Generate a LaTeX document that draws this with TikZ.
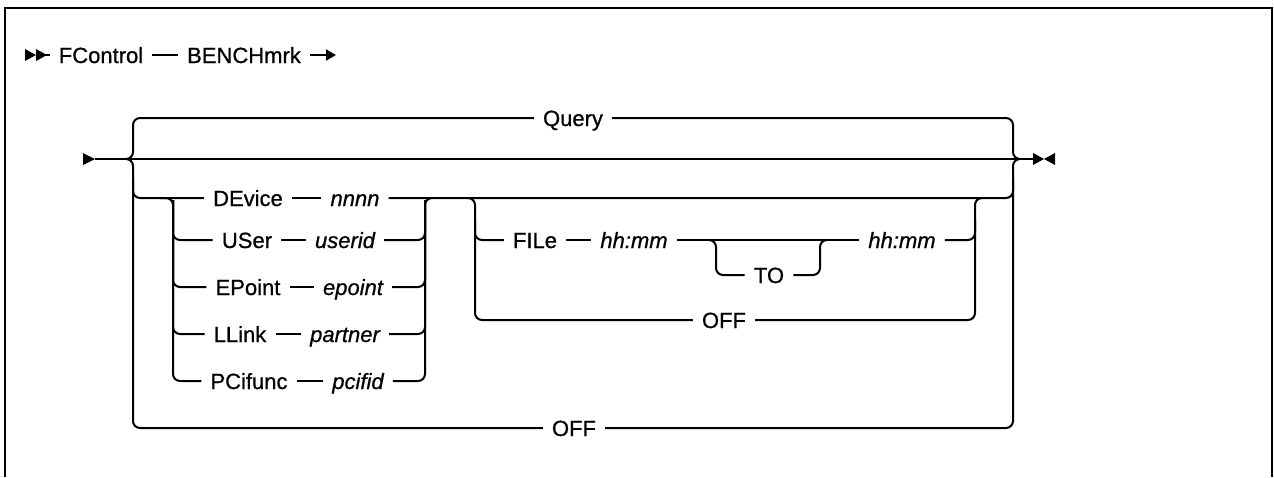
\documentclass[tikz,border=0pt]{standalone}
\usepackage{fontspec}
\setmainfont{Liberation Sans}[
  BoldFont=Liberation Sans, BoldFeatures={FakeBold=0.8},
  BoldItalicFont=Liberation Sans Italic, BoldItalicFeatures={FakeBold=0.8}]
\usetikzlibrary{arrows.meta}

\begin{document}
\begin{tikzpicture}[x=1pt, y=-1pt,
    rail/.style={line width=2pt, rounded corners=7pt},
    kw/.style={inner xsep=9pt, inner ysep=0pt, text height=18.5pt, text depth=2.5pt,
               font=\fontsize{22}{26}\selectfont\bfseries},
    var/.style={kw, font=\fontsize{22}{26}\selectfont\bfseries\itshape}]
\useasboundingbox (0,0) rectangle (1274,477);
% frame
\draw[line width=2.5pt] (5,477) -- (5,8) -- (1272,8) -- (1272,477);

% command line
\fill (25,49) -- (36,55) -- (25,61) -- cycle;
\fill (36,49) -- (47,55) -- (36,61) -- cycle;
\coordinate (cmd) at (40,55);
\node[kw] (fctl) at (101,55) {FControl};
\node[kw] (bench) at (244,55) {BENCHmrk};
\coordinate (cont) at (336,55);
\draw[rail] (cmd) -- (fctl);
\draw[rail] (fctl) -- (bench);
\draw[rail, -{Triangle[length=10pt,width=11pt]}] (bench) -- (cont);

% operand line
\coordinate (in) at (95,159);
\coordinate (out) at (1033,159);
\coordinate (bl) at (126,159);
\coordinate (br) at (1020,159);
\fill (83,153) -- (95,159) -- (83,165) -- cycle;
\fill (1033,153) -- (1044,159) -- (1033,165) -- cycle;
\fill (1055,153) -- (1044,159) -- (1055,165) -- cycle;
\draw[rail] (in) -- (out);

% default and OFF
\node[kw] (query) at (573,118) {Query};
\node[kw] (offall) at (574,428) {OFF};
\draw[rail] (bl) -| (133,118) -- (query);
\draw[rail] (query) -| (1013,159) -- (br);
\draw[rail] (bl) -| (133,428) -- (offall);
\draw[rail] (offall) -| (1013,159) -- (br);

% device choices
\node[kw] (dev) at (248,198) {DEvice};
\node[var] (nnnn) at (355,198) {nnnn};
\node[kw] (usr) at (247,240) {USer};
\node[var] (userid) at (345,240) {userid};
\node[kw] (ep) at (248,287) {EPoint};
\node[var] (epoint) at (353,287) {epoint};
\node[kw] (ll) at (240,334) {LLink};
\node[var] (partner) at (345,334) {partner};
\node[kw] (pci) at (249,381) {PCifunc};
\node[var] (pcifid) at (358,381) {pcifid};
\draw[rail] (133,180) |- (dev);
\draw[rail] (dev) -- (nnnn);
\draw[rail] (nnnn) -| (1013,180);
\draw[rail] (160,198) -| (173,381) -- (pci);
\foreach \a/\b in {usr/userid, ep/epoint, ll/partner} {
  \draw[rail] (173,200) |- (\a);
  \draw[rail] (\a) -- (\b);
  \draw[rail] (\b) -| (425,200);
}
\draw[rail] (pci) -- (pcifid);
\draw[rail] (pcifid) -| (425,198) -- (432,198);

% time options
\node[kw] (file) at (535,240) {FILe};
\node[var] (hh1) at (634,240) {hh:mm};
\node[kw] (to) at (769,275) {TO};
\node[var] (hh2) at (902,240) {hh:mm};
\node[kw] (offtime) at (724,320) {OFF};
\draw[rail] (468,198) -| (475,320) -- (offtime);
\draw[rail] (475,220) |- (file);
\draw[rail] (file) -- (hh1);
\draw[rail] (hh1) -- (hh2);
\draw[rail] (hh2) -| (975,220);
\draw[rail] (offtime) -| (975,198) -- (982,198);
\draw[rail] (709,240) -| (716,275) -- (to);
\draw[rail] (to) -| (820,240) -- (827,240);
\end{tikzpicture}
\end{document}
